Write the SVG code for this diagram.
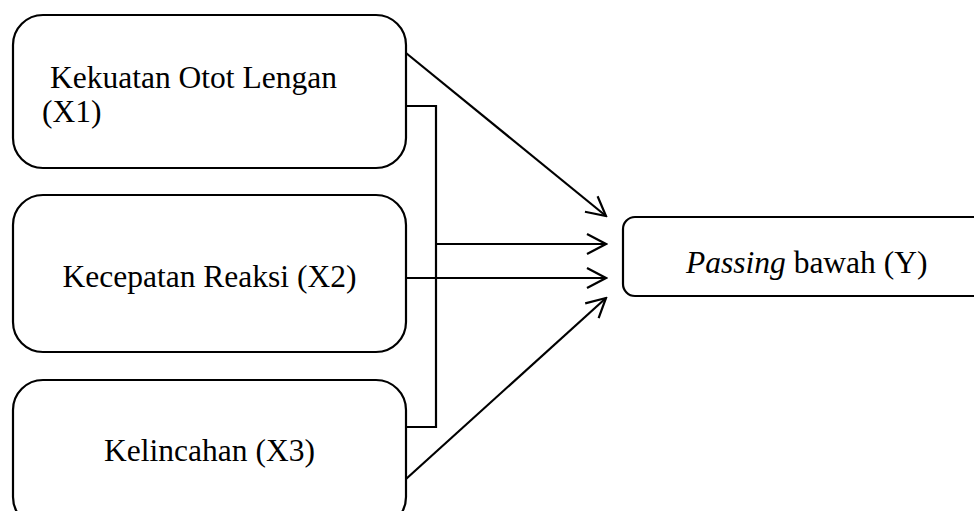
<svg xmlns="http://www.w3.org/2000/svg" width="974" height="511" viewBox="0 0 974 511">
<style>
.box{fill:#fff;stroke:#000;stroke-width:2.2}
.lbl{font-family:"Liberation Serif","Times New Roman",serif;font-size:31.5px;fill:#000}
.con{fill:none;stroke:#000;stroke-width:2.2}
</style>
<defs>
<marker id="arr" markerUnits="userSpaceOnUse" viewBox="-22 -12 24 24" refX="0" refY="0" markerWidth="24" markerHeight="24" orient="auto">
<path d="M-19,-10 L0,0 L-19,10" fill="none" stroke="#000" stroke-width="2.2"/>
</marker>
</defs>
<rect width="974" height="511" fill="#fff"/>
<g id="x1">
<rect class="box" x="13" y="15" width="393" height="153" rx="30" ry="30"/>
<text class="lbl" x="50" y="88">Kekuatan Otot Lengan</text>
<text class="lbl" x="42" y="122">(X1)</text>
</g>
<g id="x2">
<rect class="box" x="13" y="195" width="393" height="157" rx="30" ry="30"/>
<text class="lbl" x="209.5" y="287" text-anchor="middle">Kecepatan Reaksi (X2)</text>
</g>
<g id="x3">
<rect class="box" x="13" y="380" width="393" height="147" rx="30" ry="30"/>
<text class="lbl" x="209.5" y="461" text-anchor="middle">Kelincahan (X3)</text>
</g>
<g id="y">
<rect class="box" x="623" y="217" width="370" height="79" rx="12" ry="12"/>
<text class="lbl" x="686" y="273"><tspan font-style="italic">Passing</tspan> bawah (Y)</text>
</g>
<g id="connectors">
<line class="con" x1="406" y1="53" x2="606" y2="216" marker-end="url(#arr)"/>
<polyline class="con" points="406,106 436,106 436,427 406,427"/>
<line class="con" x1="436" y1="244" x2="606" y2="244" marker-end="url(#arr)"/>
<line class="con" x1="406" y1="278" x2="606" y2="278" marker-end="url(#arr)"/>
<line class="con" x1="406" y1="479" x2="606" y2="298" marker-end="url(#arr)"/>
</g>
</svg>
